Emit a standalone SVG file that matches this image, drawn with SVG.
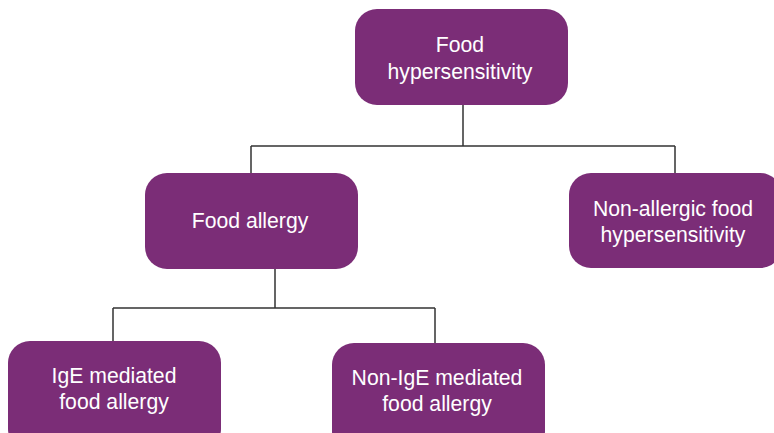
<svg xmlns="http://www.w3.org/2000/svg" width="774" height="433" viewBox="0 0 774 433">
<style>
.box{fill:#7B2D77;}
.t{fill:#fff;font-family:"Liberation Sans",Arial,sans-serif;font-size:21.2px;text-anchor:middle;}
.c{fill:none;stroke:#333;stroke-width:1.5;}
</style>
<rect width="774" height="433" fill="#fff"/>
<g id="connectors">
<path class="c" d="M463 105V146M251 146H675M251 146V173M675 146V173"/>
<path class="c" d="M275 269V308M113 308H435M113 308V341M435 308V343"/>
</g>
<g id="food-hypersensitivity">
<rect class="box" x="355" y="9" width="213" height="96" rx="22"/>
<text class="t" x="460" y="52">Food</text>
<text class="t" x="460" y="79">hypersensitivity</text>
</g>
<g id="food-allergy">
<rect class="box" x="145" y="173" width="213" height="96" rx="22"/>
<text class="t" x="250" y="228">Food allergy</text>
</g>
<g id="non-allergic">
<rect class="box" x="569" y="173" width="213" height="95" rx="22"/>
<text class="t" x="673" y="216">Non-allergic food</text>
<text class="t" x="673" y="242">hypersensitivity</text>
</g>
<g id="ige">
<rect class="box" x="8" y="341" width="213" height="110" rx="22"/>
<text class="t" x="114" y="383">IgE mediated</text>
<text class="t" x="114" y="409">food allergy</text>
</g>
<g id="non-ige">
<rect class="box" x="332" y="343" width="213" height="110" rx="22"/>
<text class="t" x="437" y="385">Non-IgE mediated</text>
<text class="t" x="437" y="411">food allergy</text>
</g>
</svg>
